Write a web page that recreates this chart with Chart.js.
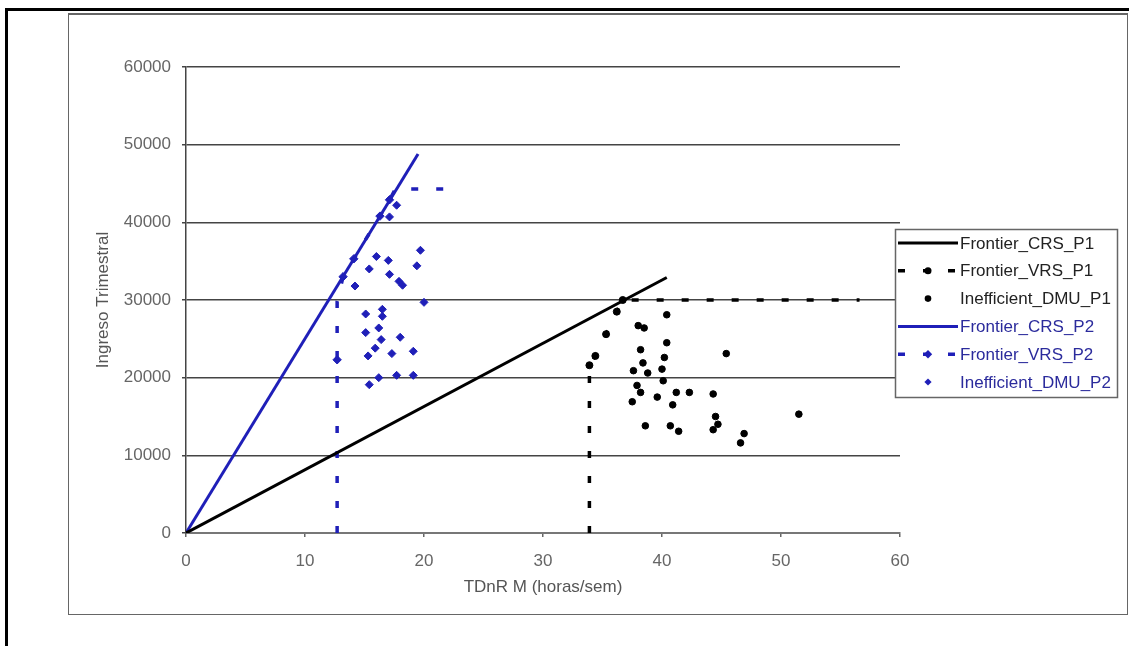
<!DOCTYPE html>
<html>
<head>
<meta charset="utf-8">
<title>Frontier CRS / VRS</title>
<script src="https://cdn.jsdelivr.net/npm/chart.js@4.4.1/dist/chart.umd.min.js"></script>
<style>
    html, body { margin: 0; padding: 0; background: #fff; }
    #marco { position: absolute; left: 5px; top: 8px; width: 1130px; height: 650px;
             border-top: 3px solid #000; border-left: 3px solid #000; }
    #caja { position: absolute; left: 68px; top: 13px; width: 1058px; height: 599px;
            border: 1px solid #666; border-top-width: 2px; }
    #grafico { position: absolute; left: 0; top: 0; }
</style>
</head>
<body>
<div id="marco"></div>
<div id="caja"></div>
<canvas id="grafico" width="1129" height="646"></canvas>
<script>
// datos
const etiquetas = ['Frontier_CRS_P1', 'Frontier_VRS_P1', 'Inefficient_DMU_P1',
                   'Frontier_CRS_P2', 'Frontier_VRS_P2', 'Inefficient_DMU_P2'];

const crsP1X = [0, 40.4];
const crsP1Y = [0, 32900];

const vrsP1X = [33.9, 33.9, 34.4, 35.3, 36.2, 36.7, 56.6];
const vrsP1Y = [0, 21600, 22800, 25600, 28500, 30000, 30000];

const inefP1X = [40.4, 38.0, 38.5, 40.4, 38.2, 40.2, 38.4, 37.6, 38.8, 40.0, 40.1, 37.9, 38.2, 37.5, 39.6,
                 41.2, 42.3, 40.9, 44.3, 45.4, 51.5, 44.5, 44.7, 44.3, 38.6, 40.7, 41.4, 46.9, 46.6];
const inefP1Y = [28100, 26700, 26400, 24500, 23600, 22600, 21900, 20900, 20600, 21100, 19600, 19000, 18100, 16900, 17500,
                 18100, 18100, 16500, 17900, 23100, 15300, 15000, 14000, 13300, 13800, 13800, 13100, 12800, 11600];

const crsP2X = [0, 19.5];
const crsP2Y = [0, 48800];

const vrsP2X = [12.7, 12.7, 12.7, 13.2, 14.1, 16.3, 17.1, 17.6, 21.8];
const vrsP2Y = [0, 22300, 29800, 33000, 35300, 40800, 42900, 44300, 44300];

const inefP2X = [17.7, 17.1, 16.0, 17.0, 15.4, 17.1, 17.9, 18.2, 19.7, 19.4, 14.2, 20.0, 15.1, 16.5,
                 16.5, 16.2, 15.1, 18.0, 16.4, 15.9, 15.3, 17.3, 19.1, 15.4, 16.2, 17.7, 19.1];
const inefP2Y = [42200, 40700, 35600, 35100, 34000, 33300, 32400, 31900, 36400, 34400, 31800, 29700, 28200, 28800,
                 27900, 26400, 25800, 25200, 24900, 23800, 22800, 23100, 23400, 19100, 20000, 20300, 20300];

const ticksX = [0, 10, 20, 30, 40, 50, 60];
const ticksY = [0, 10000, 20000, 30000, 40000, 50000, 60000];

const NEGRO = '#000000';
const AZUL = '#1f1fb8';
const colorTexto = ['#222', '#222', '#222', '#2b2b9c', '#2b2b9c', '#2b2b9c'];

const puntos = (xs, ys) => xs.map((x, i) => ({ x: x, y: ys[i] }));

// leyenda dibujada a mano, igual que la de Excel
const leyendaExcel = {
    id: 'leyendaExcel',
    afterDraw(chart) {
        const ctx = chart.ctx;
        ctx.save();
        ctx.fillStyle = '#fff';
        ctx.strokeStyle = '#666';
        ctx.lineWidth = 1.5;
        ctx.fillRect(895, 229, 222, 168);
        ctx.strokeRect(895.5, 229.5, 222, 168);

        chart.data.datasets.forEach((ds, i) => {
            const y = 243 + i * 27.8;
            if (ds.showLine) {
                ctx.beginPath();
                ctx.setLineDash(ds.borderDash || []);
                ctx.strokeStyle = ds.borderColor;
                ctx.lineWidth = ds.borderWidth;
                ctx.moveTo(898, y);
                ctx.lineTo(958, y);
                ctx.stroke();
                ctx.setLineDash([]);
            }
            if (ds.legendRadius) {
                ctx.fillStyle = ds.borderColor;
                ctx.strokeStyle = ds.borderColor;
                ctx.lineWidth = 1;
                Chart.helpers.drawPoint(ctx, { pointStyle: ds.pointStyle, radius: ds.legendRadius, rotation: 0 }, 928, y);
            }
            ctx.fillStyle = colorTexto[i];
            ctx.font = '17px "Liberation Sans", Arial, sans-serif';
            ctx.textBaseline = 'middle';
            ctx.textAlign = 'left';
            ctx.fillText(etiquetas[i], 960, y + 1);
        });
        ctx.restore();
    }
};

const ctx = document.getElementById('grafico').getContext('2d');
new Chart(ctx, {
    type: 'scatter',
    data: {
        datasets: [
            {
                label: etiquetas[0],
                data: puntos(crsP1X, crsP1Y),
                showLine: true,
                borderColor: NEGRO,
                borderWidth: 3,
                pointRadius: 0
            },
            {
                label: etiquetas[1],
                data: puntos(vrsP1X, vrsP1Y),
                showLine: true,
                borderColor: NEGRO,
                backgroundColor: NEGRO,
                borderWidth: 3.5,
                borderDash: [7, 18],
                pointStyle: 'circle',
                pointBorderWidth: 1,
                pointRadius: [0, 3.5, 3.5, 3.5, 3.5, 3.5, 0],
                legendRadius: 3.5
            },
            {
                label: etiquetas[2],
                data: puntos(inefP1X, inefP1Y),
                showLine: false,
                borderColor: NEGRO,
                backgroundColor: NEGRO,
                pointStyle: 'circle',
                pointBorderWidth: 1,
                pointRadius: 3.3,
                legendRadius: 3.3
            },
            {
                label: etiquetas[3],
                data: puntos(crsP2X, crsP2Y),
                showLine: true,
                borderColor: AZUL,
                borderWidth: 3,
                pointRadius: 0
            },
            {
                label: etiquetas[4],
                data: puntos(vrsP2X, vrsP2Y),
                showLine: true,
                borderColor: AZUL,
                backgroundColor: AZUL,
                borderWidth: 3.5,
                borderDash: [7, 18],
                pointStyle: 'rectRot',
                pointBorderWidth: 1,
                pointRadius: [0, 4.2, 0, 4.2, 4.2, 4.2, 4.2, 0, 0],
                legendRadius: 4.2
            },
            {
                label: etiquetas[5],
                data: puntos(inefP2X, inefP2Y),
                showLine: false,
                borderColor: AZUL,
                backgroundColor: AZUL,
                pointStyle: 'rectRot',
                pointBorderWidth: 1,
                pointRadius: 4,
                legendRadius: 3.6
            }
        ]
    },
    options: {
        responsive: false,
        animation: false,
        devicePixelRatio: 1,
        layout: { padding: { left: 0, top: 67, right: 229, bottom: 43 } },
        elements: { line: { tension: 0 }, point: { borderWidth: 1, hoverRadius: 5 } },
        plugins: {
            legend: { display: false },
            tooltip: { enabled: false }
        },
        scales: {
            x: {
                type: 'linear',
                min: 0,
                max: 60,
                afterFit: s => { s.height = 70; },
                afterBuildTicks: s => { s.ticks = ticksX.map(v => ({ value: v })); },
                ticks: {
                    color: '#666',
                    padding: 14,
                    maxRotation: 0,
                    font: { family: '"Liberation Sans", Arial', size: 17 }
                },
                grid: { drawOnChartArea: false, tickLength: 4, color: '#666', lineWidth: 1.5 },
                border: { color: '#777', width: 2 },
                title: {
                    display: true,
                    text: 'TDnR M (horas/sem)',
                    color: '#555',
                    padding: { top: 0, bottom: 5 },
                    font: { family: '"Liberation Sans", Arial', size: 17 }
                }
            },
            y: {
                type: 'linear',
                min: 0,
                max: 60000,
                afterFit: s => { s.width = 186; },
                afterBuildTicks: s => { s.ticks = ticksY.map(v => ({ value: v })); },
                ticks: {
                    color: '#666',
                    padding: 11,
                    callback: v => String(v),
                    font: { family: '"Liberation Sans", Arial', size: 17 }
                },
                grid: { color: '#444', lineWidth: 1.5, tickLength: 4 },
                border: { color: '#444', width: 1.5 },
                title: {
                    display: true,
                    text: 'Ingreso Trimestral',
                    color: '#555',
                    padding: { top: 93, bottom: 0 },
                    font: { family: '"Liberation Sans", Arial', size: 17 }
                }
            }
        }
    },
    plugins: [leyendaExcel]
});
</script>
</body>
</html>
